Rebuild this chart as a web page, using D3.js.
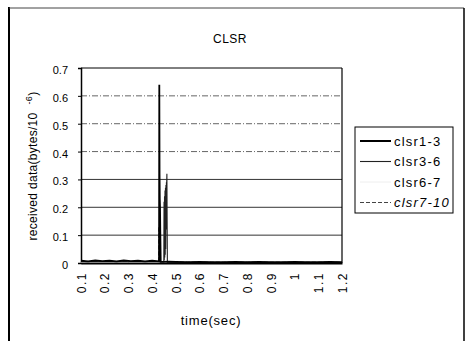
<!DOCTYPE html>
<html>
<head>
<meta charset="utf-8">
<script src="https://cdn.jsdelivr.net/npm/d3@7/dist/d3.min.js"></script>
<style>
  body { margin: 0; background: #fff; }
  svg { display: block; font-family: "Liberation Sans", Arial, sans-serif; }
</style>
</head>
<body>
<svg id="chart" width="469" height="341"></svg>
<script>
// ---- data ----
const title = "CLSR";
const seriesNames = ["clsr1-3", "clsr3-6", "clsr6-7", "clsr7-10"];
const xTickValues = [0.1, 0.2, 0.3, 0.4, 0.5, 0.6, 0.7, 0.8, 0.9, 1.0, 1.1, 1.2];
const xTickLabels = ["0.1", "0.2", "0.3", "0.4", "0.5", "0.6", "0.7", "0.8", "0.9", "1", "1.1", "1.2"];
const yTickValues = [0, 0.1, 0.2, 0.3, 0.4, 0.5, 0.6, 0.7];
const yTickLabels = ["0", "0.1", "0.2", "0.3", "0.4", "0.5", "0.6", "0.7"];

const clsr13Time  = [0.1, 0.13, 0.16, 0.19, 0.22, 0.25, 0.28, 0.31, 0.34, 0.37, 0.4, 0.42, 0.429, 0.430, 0.431, 0.432, 0.433, 0.434, 0.436, 0.44, 0.47, 0.5, 0.55, 0.6, 0.65, 0.7, 0.75, 0.8, 0.85, 0.9, 0.95, 1.0, 1.05, 1.1, 1.15, 1.2];
const clsr13Value = [0.008, 0.006, 0.009, 0.007, 0.008, 0.006, 0.009, 0.007, 0.008, 0.006, 0.008, 0.007, 0.006, 0.64, 0.32, 0.23, 0.20, 0.12, 0.004, 0.004, 0.005, 0.004, 0.003, 0.004, 0.003, 0.003, 0.004, 0.003, 0.004, 0.003, 0.003, 0.004, 0.003, 0.003, 0.004, 0.003];

const clsr36Time  = [0.1, 0.15, 0.2, 0.25, 0.3, 0.35, 0.4, 0.44, 0.449, 0.450, 0.451, 0.452, 0.453, 0.454, 0.455, 0.456, 0.457, 0.458, 0.459, 0.460, 0.461, 0.462, 0.463, 0.464, 0.47, 0.5, 0.6, 0.7, 0.8, 0.9, 1.0, 1.1, 1.2];
const clsr36Value = [0.004, 0.005, 0.004, 0.005, 0.004, 0.005, 0.004, 0.004, 0.004, 0.22, 0.01, 0.24, 0.02, 0.26, 0.03, 0.27, 0.05, 0.28, 0.12, 0.29, 0.28, 0.32, 0.15, 0.003, 0.003, 0.002, 0.002, 0.002, 0.002, 0.002, 0.002, 0.002, 0.002];

const clsr67Time  = [0.1, 0.3, 0.5, 0.7, 0.9, 1.1, 1.2];
const clsr67Value = [0.002, 0.002, 0.002, 0.002, 0.002, 0.002, 0.002];

const clsr710Time  = [0.1, 0.2, 0.3, 0.4, 0.427, 0.428, 0.429, 0.45, 0.6, 0.8, 1.0, 1.2];
const clsr710Value = [0.006, 0.005, 0.006, 0.005, 0.005, 0.13, 0.005, 0.004, 0.003, 0.003, 0.003, 0.003];

// ---- layout ----
const svg = d3.select("#chart");
const plot = { left: 81, right: 342, top: 68, bottom: 263 };

const x = d3.scaleLinear().domain([0.1, 1.2]).range([plot.left, plot.right]);
const y = d3.scaleLinear().domain([0, 0.7]).range([plot.bottom, plot.top]);

// outer frame
svg.append("line").attr("x1", 9).attr("x2", 9).attr("y1", 7).attr("y2", 341).attr("stroke", "#000").attr("stroke-width", 2);
svg.append("line").attr("x1", 9).attr("x2", 464).attr("y1", 8).attr("y2", 8).attr("stroke", "#444").attr("stroke-width", 1);
svg.append("line").attr("x1", 464).attr("x2", 464).attr("y1", 8).attr("y2", 341).attr("stroke", "#000").attr("stroke-width", 1.5);

// title
svg.append("text").attr("x", 230).attr("y", 43).attr("text-anchor", "middle")
  .attr("font-size", 12).attr("letter-spacing", 0.5).text(title);

// gridlines
const grid = svg.append("g");
yTickValues.filter(v => v > 0 && v < 0.7).forEach(v => {
  const dashed = v > 0.35;
  grid.append("line")
    .attr("x1", plot.left).attr("x2", plot.right)
    .attr("y1", y(v)).attr("y2", y(v))
    .attr("stroke", dashed ? "#555" : "#333")
    .attr("stroke-width", dashed ? 0.9 : 1)
    .attr("stroke-dasharray", dashed ? "6,2,1,2" : null);
});

// plot border (top & right)
svg.append("line").attr("x1", plot.left).attr("x2", plot.right).attr("y1", plot.top).attr("y2", plot.top).attr("stroke", "#000").attr("stroke-width", 1);
svg.append("line").attr("x1", plot.right).attr("x2", plot.right).attr("y1", plot.top).attr("y2", plot.bottom).attr("stroke", "#000").attr("stroke-width", 1.2);

// y axis
const yAxis = d3.axisLeft(y).tickValues(yTickValues).tickFormat((d, i) => yTickLabels[i]).tickSize(3).tickPadding(10);
const yg = svg.append("g").attr("transform", `translate(${plot.left},0)`).call(yAxis);
yg.select(".domain").attr("stroke", "#000").attr("stroke-width", 1.5);
yg.selectAll(".tick text").attr("font-size", 11).attr("font-family", "Liberation Sans, Arial, sans-serif").attr("fill", "#000").attr("dy", "0.5em");

// x axis
const xAxis = d3.axisBottom(x).tickValues(xTickValues).tickFormat((d, i) => xTickLabels[i]).tickSize(0);
const xg = svg.append("g").attr("transform", `translate(0,${plot.bottom})`).call(xAxis);
xg.select(".domain").attr("stroke", "#000").attr("stroke-width", 2);
xg.selectAll(".tick text")
  .attr("font-size", 12).attr("letter-spacing", 1.5)
  .attr("font-family", "Liberation Sans, Arial, sans-serif").attr("fill", "#000")
  .attr("text-anchor", "end")
  .attr("transform", "rotate(-90)")
  .attr("x", -9).attr("y", 0).attr("dy", "0.35em");

// axis titles
svg.append("text").attr("x", 211).attr("y", 325).attr("text-anchor", "middle")
  .attr("font-size", 13).attr("letter-spacing", 0.8).text("time(sec)");

const yt = svg.append("text").attr("transform", "translate(37,166) rotate(-90)")
  .attr("text-anchor", "middle").attr("font-size", 12).attr("letter-spacing", 0.3);
yt.append("tspan").text("received data(bytes/10");
yt.append("tspan").attr("dx", 8).attr("font-size", 9).attr("baseline-shift", "super").text("-6");
yt.append("tspan").attr("baseline-shift", "0").attr("dy", 0).text(")");

// series
const series = [
  { name: seriesNames[0], t: clsr13Time, v: clsr13Value, color: "#000", width: 1.8, dash: null },
  { name: seriesNames[1], t: clsr36Time, v: clsr36Value, color: "#222", width: 1.1, dash: null },
  { name: seriesNames[2], t: clsr67Time, v: clsr67Value, color: "#eee", width: 1, dash: null },
  { name: seriesNames[3], t: clsr710Time, v: clsr710Value, color: "#444", width: 1, dash: "4,2" }
];
const line = d3.line().x(d => x(d[0])).y(d => y(d[1]));
series.slice().reverse().forEach(s => {
  svg.append("path")
    .attr("d", line(s.t.map((t, i) => [t, s.v[i]])))
    .attr("fill", "none").attr("stroke", s.color)
    .attr("stroke-width", s.width)
    .attr("stroke-dasharray", s.dash);
});

// legend
const lg = svg.append("g");
lg.append("rect").attr("x", 355).attr("y", 127).attr("width", 98).attr("height", 86)
  .attr("fill", "#fff").attr("stroke", "#000").attr("stroke-width", 1);
series.forEach((s, i) => {
  const cy = 141 + i * 20.5;
  lg.append("line").attr("x1", 360).attr("x2", 391).attr("y1", cy).attr("y2", cy)
    .attr("stroke", s.color).attr("stroke-width", i === 0 ? 2 : s.width)
    .attr("stroke-dasharray", s.dash);
  lg.append("text").attr("x", 394).attr("y", cy).attr("dy", "0.35em")
    .attr("font-size", 13).attr("letter-spacing", 1.2)
    .attr("font-style", i === 3 ? "italic" : null)
    .text(s.name);
});
</script>
</body>
</html>
